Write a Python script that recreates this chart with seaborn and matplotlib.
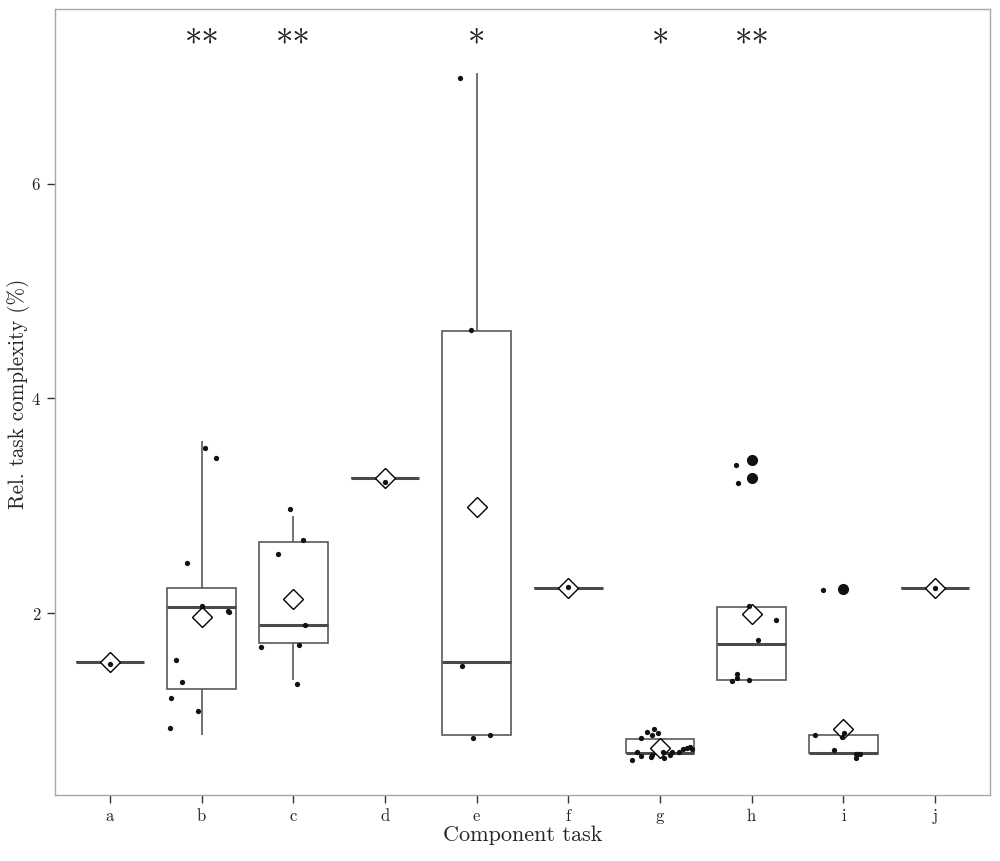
import numpy as np
import pandas as pd
import matplotlib.pyplot as plt
import seaborn as sns

tasks = ['a', 'b', 'c', 'd', 'e', 'f', 'g', 'h', 'i', 'j']

# values behind the boxes and means
raw_a = [1.55]
raw_b = [0.87, 1.05, 1.21, 1.38, 1.52, 2.06, 2.06, 2.08, 2.39, 3.40, 3.60]
raw_c = [1.38, 1.71, 1.74, 1.89, 2.57, 2.75, 2.91]
raw_d = [3.26]
raw_e = [0.86, 0.87, 1.55, 4.63, 7.03]
raw_f = [2.24]
raw_g = [0.70] * 12 + [0.83] * 7
raw_h = [1.38, 1.38, 1.38, 1.42, 1.72, 1.90, 2.06, 3.26, 3.43]
raw_i = [0.70] * 5 + [0.87] * 3 + [2.23]
raw_j = [2.235]

# points as they show up in the plot (jittered in the original)
pts_a = [1.53]
pts_b = [3.54, 3.45, 2.47, 2.07, 2.02, 2.01, 1.57, 1.36, 1.21, 1.09, 0.93]
pts_c = [2.97, 2.68, 2.55, 1.89, 1.71, 1.69, 1.34]
pts_d = [3.22]
pts_e = [6.98, 4.64, 1.51, 0.87, 0.84]
pts_f = [2.25]
pts_g = [0.71, 0.71, 0.71, 0.90, 0.84, 0.87, 0.76, 0.74, 0.71, 0.75,
         0.74, 0.68, 0.64, 0.68, 0.65, 0.66, 0.67, 0.92, 0.89]
pts_h = [3.38, 3.21, 2.07, 1.94, 1.75, 1.44, 1.40, 1.38, 1.37]
pts_i = [2.22, 0.89, 0.87, 0.85, 0.73, 0.69, 0.69, 0.69, 0.65]
pts_j = [2.235]

stars = ['', '**', '**', '', '*', '', '*', '**', '', '']

raw = [raw_a, raw_b, raw_c, raw_d, raw_e, raw_f, raw_g, raw_h, raw_i, raw_j]
pts = [pts_a, pts_b, pts_c, pts_d, pts_e, pts_f, pts_g, pts_h, pts_i, pts_j]

box_df = pd.DataFrame([(t, v) for t, vals in zip(tasks, raw) for v in vals],
                      columns=['task', 'value'])
pt_df = pd.DataFrame([(t, v) for t, vals in zip(tasks, pts) for v in vals],
                     columns=['task', 'value'])

sns.set_theme(style='ticks')
plt.rcParams['font.family'] = ['cmr10', 'DejaVu Serif']
plt.rcParams['mathtext.fontset'] = 'cm'
plt.rcParams['axes.formatter.use_mathtext'] = True

fig, ax = plt.subplots(figsize=(10, 8.61), dpi=100)
fig.subplots_adjust(left=0.055, right=0.99, top=0.989, bottom=0.077)

sns.boxplot(data=box_df, x='task', y='value', order=tasks, width=0.75,
            color='white', linecolor='#5a5a5a', linewidth=1.2, fliersize=7,
            showcaps=False, showmeans=True,
            meanprops=dict(marker='D', markerfacecolor='white',
                           markeredgecolor='black', markersize=10,
                           markeredgewidth=1.0, zorder=4),
            medianprops=dict(color='#4a4a4a', linewidth=2.2),
            flierprops=dict(marker='o', markerfacecolor='#111111',
                            markeredgecolor='#111111'),
            ax=ax)

np.random.seed(3)
sns.stripplot(data=pt_df, x='task', y='value', order=tasks, color='#111111',
              size=3.8, jitter=0.37, linewidth=0, zorder=5, ax=ax)

for i, s in enumerate(stars):
    if s:
        ax.text(i, 7.28, s, ha='center', va='center', fontsize=25,
                color='#222222')

ax.set_xlim(-0.6, 9.6)
ax.set_ylim(0.313, 7.62)
ax.set_yticks([2, 4, 6])
ax.set_xlabel('Component task', fontsize=16, labelpad=1)
ax.set_ylabel('Rel. task complexity (%)', fontsize=15.2)
ax.yaxis.set_label_coords(-0.027, 0.51)

for side in ['top', 'right', 'bottom', 'left']:
    ax.spines[side].set_visible(True)
    ax.spines[side].set_color('#a8a8a8')
    ax.spines[side].set_linewidth(1.0)
ax.tick_params(axis='both', colors='#333333', labelcolor='#222222',
               length=6, width=1.0, labelsize=12, pad=4)

fig.savefig('out.png', dpi=100)
